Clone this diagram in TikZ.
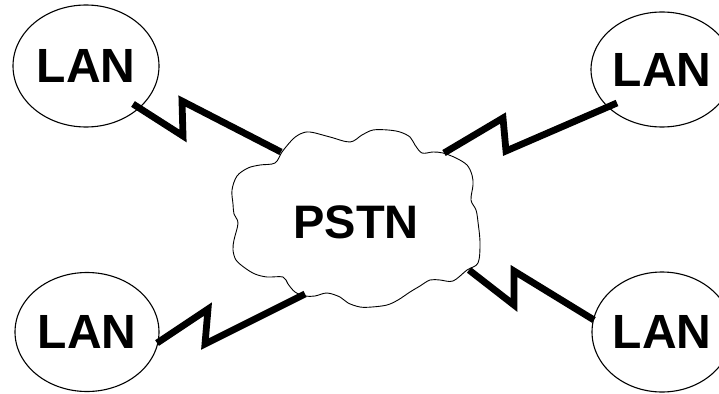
\documentclass[tikz,border=0pt]{standalone}
\usepackage{fontspec}
\setmainfont{Liberation Sans}
\usetikzlibrary{shapes.geometric}
\begin{document}
\begin{tikzpicture}[x=1pt,y=-1pt,
  lan/.style={draw, ellipse, line width=1.1pt, inner sep=0pt,
    font=\fontsize{48}{48}\selectfont\bfseries},
  cloudline/.style={line width=0.9pt},
  link/.style={line width=6.8pt, line join=miter, miter limit=10},
  netlabel/.style={font=\fontsize{47}{47}\selectfont\bfseries, inner sep=0pt}]
\useasboundingbox (0,0) rectangle (719,393);

% the four LANs
\node[lan, minimum width=146pt, minimum height=122pt] (lanTL) at (86,66) {LAN};
\node[lan, minimum width=142pt, minimum height=115pt] (lanTR) at (662,69.5) {LAN};
\node[lan, minimum width=144pt, minimum height=119pt] (lanBL) at (87,332) {LAN};
\node[lan, minimum width=140pt, minimum height=120pt] (lanBR) at (662,332) {LAN};

% the telephone network cloud
\draw[cloudline] plot[smooth cycle, tension=0.55] coordinates {
  (282,152) (292,140) (300,134) (310,132) (330,137) (350,142) (362,135)
  (373,130) (388,130) (400,132) (410,137) (415,145) (422,153) (433,152)
  (443,153) (456,158) (467,165) (472,175) (473,185) (471,200) (476,210)
  (478,222) (480,243) (478,263) (467,270) (453,281) (440,280) (430,280)
  (420,286) (410,292) (398,300) (387,305) (372,307) (360,307) (348,303)
  (340,297) (327,293) (315,296) (305,296) (295,292) (288,284) (283,277)
  (267,277) (255,274) (245,268) (236,260) (233,250) (234,240) (238,223)
  (234,214) (233,204) (232,190) (237,176) (248,168) (260,165) (275,163)};
\node[netlabel] (pstn) at (356,222) {PSTN};

% attachment points on the cloud rim
\coordinate (cTL) at (281,152);
\coordinate (cTR) at (444,153);
\coordinate (cBL) at (305,294);
\coordinate (cBR) at (469,270);

% lightning-shaped links
\coordinate (sTL) at (133,104);
\coordinate (sTR) at (617,103);
\coordinate (sBL) at (157,343);
\coordinate (sBR) at (594,320);
\draw[link] (sTL) -- (183,136) -- (182,101) -- (cTL);
\draw[link] (cTR) -- (503,118) -- (506,151) -- (sTR);
\draw[link] (sBL) -- (208,309) -- (205,344) -- (cBL);
\draw[link] (cBR) -- (514,305) -- (514,271) -- (sBR);
\end{tikzpicture}
\end{document}
